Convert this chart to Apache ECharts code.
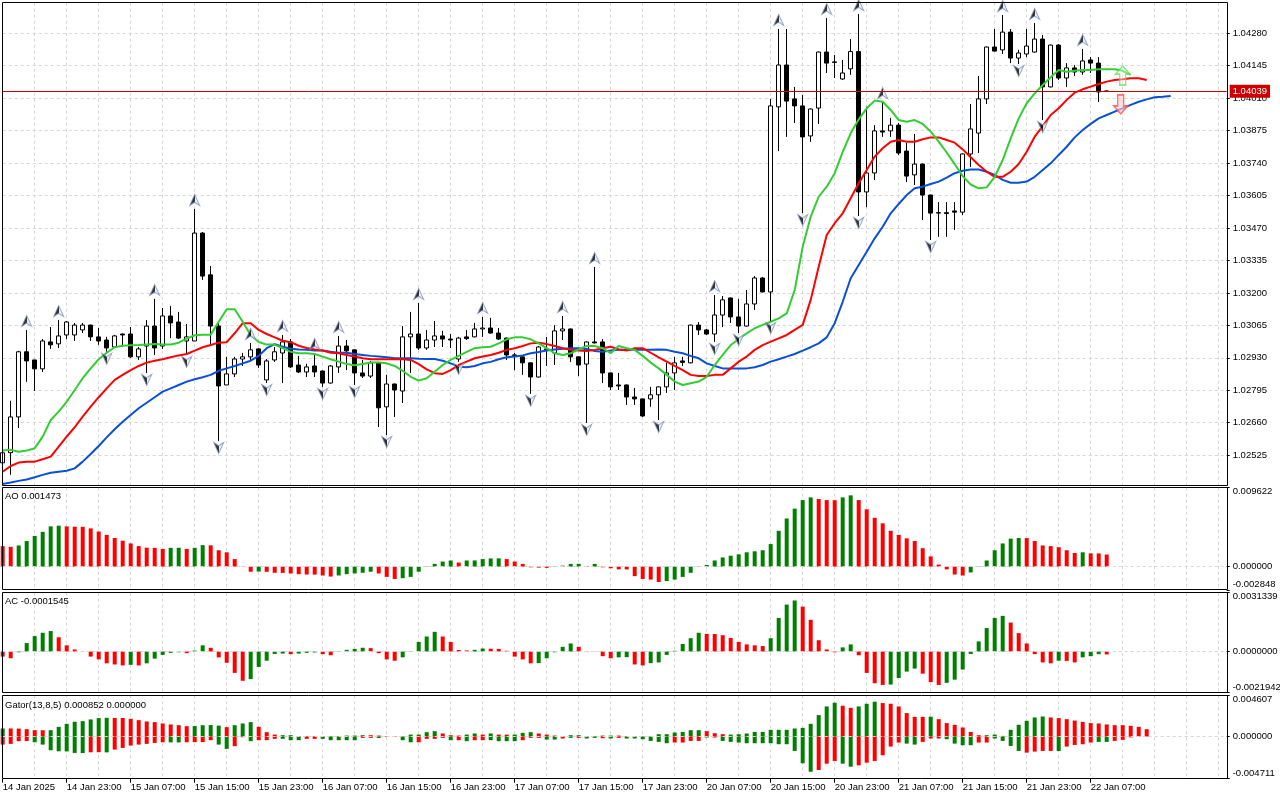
<!DOCTYPE html>
<html>
<head>
<meta charset="utf-8">
<title>EURUSD H1</title>
<script src="https://cdn.jsdelivr.net/npm/echarts@6.0.0/dist/echarts.min.js"></script>
<style>
html, body { margin: 0; padding: 0; background: #fff; }
#chart { width: 1280px; height: 800px; }
</style>
</head>
<body>
<div id="chart"></div>
<script>
var myChart = echarts.init(document.getElementById('chart'));

// time axis: one label every 8 hourly bars
var tickLabels = ['14 Jan 2025', '14 Jan 23:00', '15 Jan 07:00', '15 Jan 15:00', '15 Jan 23:00', '16 Jan 07:00',
    '16 Jan 15:00', '16 Jan 23:00', '17 Jan 07:00', '17 Jan 15:00', '17 Jan 23:00', '20 Jan 07:00',
    '20 Jan 15:00', '20 Jan 23:00', '21 Jan 07:00', '21 Jan 15:00', '21 Jan 23:00', '22 Jan 07:00'];
var slotCount = 154;

// candles
var open = [1.02493,1.02535,1.02684,1.02955,1.02921,1.02884,1.02996,1.02988,1.03025,1.03025,
    1.03046,1.03066,1.03017,1.03004,1.02975,1.03029,1.03029,1.02934,1.02979,1.03062,
    1.02979,1.03104,1.03079,1.03000,1.03000,1.03449,1.03275,1.03062,1.02817,1.02863,
    1.02925,1.02934,1.02967,1.02838,1.02921,1.02950,1.02996,1.02900,1.02871,1.02896,
    1.02875,1.02825,1.02892,1.02979,1.02963,1.02867,1.02854,1.02909,1.02726,1.02821,
    1.02792,1.03017,1.03029,1.02971,1.03004,1.03021,1.03008,1.02925,1.03017,1.03017,
    1.03050,1.03054,1.03033,1.03012,1.02942,1.02934,1.02909,1.02850,1.02963,1.02950,
    1.03042,1.03050,1.02934,1.02904,1.02996,1.02996,1.02867,1.02817,1.02817,1.02767,
    1.02759,1.02759,1.02776,1.02809,1.02867,1.02917,1.02909,1.03066,1.03046,1.03029,
    1.03108,1.03179,1.03100,1.03062,1.03154,1.03262,1.03204,1.03974,1.04148,1.04007,
    1.03978,1.03853,1.03969,1.04202,1.04161,1.04090,1.04132,1.04204,1.03620,1.03699,
    1.03874,1.03874,1.03898,1.03790,1.03691,1.03736,1.03607,1.03532,1.03530,1.03541,
    1.03536,1.03778,1.03865,1.04007,1.04223,1.04211,1.04285,1.04177,1.04194,1.04202,
    1.04256,1.04057,1.04231,1.04094,1.04136,1.04119,1.04169,1.04156,1.04040];
var close = [1.02535,1.02684,1.02955,1.02917,1.02884,1.03000,1.02984,1.03021,1.03079,1.03066,
    1.03066,1.03017,1.03000,1.02971,1.03021,1.03025,1.02934,1.02967,1.03062,1.02971,
    1.03104,1.03075,1.03012,1.03017,1.03449,1.03270,1.03062,1.02813,1.02863,1.02925,
    1.02934,1.02963,1.02900,1.02917,1.02955,1.02996,1.02892,1.02871,1.02892,1.02871,
    1.02825,1.02896,1.02979,1.02959,1.02867,1.02854,1.02909,1.02722,1.02821,1.02796,
    1.03017,1.03029,1.02971,1.03004,1.03021,1.03008,1.03004,1.03012,1.03010,1.03050,
    1.03054,1.03033,1.03008,1.02942,1.02940,1.02909,1.02850,1.02975,1.02967,1.03042,
    1.03050,1.02934,1.02900,1.02996,1.02992,1.02867,1.02809,1.02813,1.02767,1.02759,
    1.02688,1.02776,1.02809,1.02867,1.02909,1.02911,1.03066,1.03046,1.03029,1.03108,
    1.03171,1.03100,1.03062,1.03154,1.03262,1.03204,1.03978,1.04148,1.03998,1.03978,
    1.03849,1.03965,1.04202,1.04156,1.04159,1.04115,1.04204,1.03620,1.03699,1.03874,
    1.03869,1.03898,1.03782,1.03686,1.03736,1.03607,1.03532,1.03534,1.03534,1.03536,
    1.03778,1.03882,1.04007,1.04223,1.04206,1.04285,1.04177,1.04198,1.04227,1.04256,
    1.04057,1.04231,1.04094,1.04136,1.04119,1.04165,1.04156,1.04036,1.04039];
var low = [1.02480,1.02443,1.02638,1.02830,1.02792,1.02871,1.02967,1.02971,1.03008,1.03000,
    1.03033,1.03000,1.02984,1.02955,1.02971,1.02975,1.02930,1.02921,1.02867,1.02942,
    1.02967,1.03012,1.03008,1.02942,1.03000,1.03254,1.02984,1.02584,1.02817,1.02850,
    1.02896,1.02921,1.02888,1.02825,1.02913,1.02825,1.02888,1.02867,1.02850,1.02850,
    1.02809,1.02823,1.02867,1.02879,1.02817,1.02846,1.02846,1.02642,1.02609,1.02684,
    1.02742,1.02867,1.02963,1.02963,1.02975,1.02975,1.02971,1.02913,1.03004,1.03015,
    1.03017,1.03031,1.03004,1.02921,1.02879,1.02859,1.02780,1.02848,1.02896,1.02900,
    1.03004,1.02913,1.02854,1.02659,1.02990,1.02825,1.02796,1.02796,1.02734,1.02734,
    1.02684,1.02726,1.02671,1.02784,1.02796,1.02896,1.02907,1.03025,1.03025,1.02996,
    1.03058,1.03075,1.03033,1.03060,1.03129,1.03202,1.03083,1.03790,1.03849,1.03907,
    1.03532,1.03828,1.03903,1.04115,1.04094,1.04086,1.04107,1.03520,1.03557,1.03670,
    1.03849,1.03849,1.03774,1.03661,1.03649,1.03503,1.03420,1.03433,1.03433,1.03462,
    1.03524,1.03724,1.03782,1.03986,1.04204,1.04194,1.04156,1.04152,1.04181,1.04200,
    1.03919,1.04055,1.04086,1.04057,1.04102,1.04107,1.04115,1.03994,1.04038];
var high = [1.02547,1.02751,1.02959,1.03046,1.02921,1.03008,1.03058,1.03087,1.03083,1.03075,
    1.03075,1.03068,1.03054,1.03017,1.03025,1.03031,1.03058,1.02975,1.03087,1.03175,
    1.03137,1.03146,1.03121,1.03071,1.03549,1.03453,1.03312,1.03079,1.02934,1.02934,
    1.02950,1.02992,1.02970,1.02925,1.02975,1.03025,1.03008,1.02938,1.02905,1.02950,
    1.02877,1.02900,1.03021,1.03004,1.02965,1.02921,1.02917,1.02913,1.02859,1.02823,
    1.03062,1.03121,1.03158,1.03046,1.03083,1.03042,1.03029,1.03017,1.03046,1.03075,
    1.03100,1.03096,1.03054,1.03014,1.02950,1.02936,1.02911,1.02979,1.03017,1.03066,
    1.03104,1.03052,1.02936,1.02998,1.03308,1.03008,1.02869,1.02867,1.02819,1.02805,
    1.02761,1.02809,1.02811,1.02909,1.02934,1.02934,1.03068,1.03079,1.03050,1.03191,
    1.03187,1.03181,1.03175,1.03212,1.03270,1.03266,1.04007,1.04298,1.04298,1.04057,
    1.04023,1.03967,1.04204,1.04344,1.04190,1.04169,1.04256,1.04360,1.03974,1.03898,
    1.03994,1.03928,1.03907,1.03824,1.03861,1.03738,1.03609,1.03578,1.03578,1.03578,
    1.03780,1.03986,1.04102,1.04225,1.04298,1.04356,1.04298,1.04211,1.04298,1.04323,
    1.04273,1.04233,1.04235,1.04156,1.04148,1.04215,1.04181,1.04181,1.04041];
var lastPrice = 1.04039;

// alligator lines (already shifted forward)
var lips = [1.02544,1.02547,1.02539,1.02544,1.02554,1.02602,1.02671,1.02706,1.02747,1.02796,
    1.02845,1.02886,1.02924,1.02951,1.02974,1.02980,1.02982,1.02983,1.02985,1.02987,
    1.02985,1.02985,1.02993,1.03010,1.03024,1.03026,1.03026,1.03080,1.03132,1.03132,
    1.03080,1.03024,1.02996,1.02985,1.02985,1.02970,1.02955,1.02949,1.02949,1.02946,
    1.02935,1.02924,1.02914,1.02904,1.02899,1.02904,1.02910,1.02910,1.02907,1.02896,
    1.02876,1.02851,1.02835,1.02845,1.02872,1.02900,1.02921,1.02938,1.02955,1.02970,
    1.02974,1.02976,1.02990,1.03007,1.03015,1.03015,1.03007,1.02990,1.02970,1.02949,
    1.02942,1.02949,1.02965,1.02979,1.02979,1.02970,1.02949,1.02979,1.02970,1.02963,
    1.02938,1.02910,1.02886,1.02859,1.02831,1.02817,1.02824,1.02831,1.02851,1.02900,
    1.02942,1.02983,1.03007,1.03032,1.03053,1.03067,1.03080,1.03094,1.03115,1.03212,
    1.03392,1.03517,1.03600,1.03642,1.03698,1.03787,1.03864,1.03922,1.03968,1.04000,
    1.03995,1.03961,1.03919,1.03912,1.03919,1.03903,1.03871,1.03829,1.03784,1.03736,
    1.03686,1.03651,1.03635,1.03639,1.03683,1.03753,1.03843,1.03926,1.03989,1.04030,
    1.04065,1.04097,1.04127,1.04120,1.04124,1.04127,1.04127,1.04130,1.04130,1.04130,
    1.04124,1.04107];
var teeth = [1.02456,1.02480,1.02494,1.02498,1.02498,1.02508,1.02519,1.02560,1.02602,1.02641,
    1.02685,1.02727,1.02766,1.02803,1.02838,1.02859,1.02879,1.02896,1.02910,1.02918,
    1.02924,1.02932,1.02940,1.02946,1.02960,1.02974,1.02983,1.02993,1.02995,1.03032,
    1.03074,1.03074,1.03046,1.03029,1.03015,1.03001,1.02995,1.02980,1.02971,1.02965,
    1.02960,1.02951,1.02949,1.02942,1.02935,1.02928,1.02924,1.02924,1.02924,1.02924,
    1.02924,1.02921,1.02904,1.02882,1.02866,1.02863,1.02879,1.02900,1.02914,1.02928,
    1.02935,1.02942,1.02951,1.02963,1.02970,1.02979,1.02990,1.02993,1.02987,1.02979,
    1.02970,1.02963,1.02960,1.02958,1.02963,1.02970,1.02976,1.02965,1.02960,1.02970,
    1.02970,1.02951,1.02932,1.02914,1.02896,1.02879,1.02859,1.02854,1.02854,1.02859,
    1.02859,1.02886,1.02914,1.02935,1.02963,1.02983,1.02997,1.03011,1.03025,1.03046,
    1.03067,1.03171,1.03309,1.03441,1.03490,1.03531,1.03594,1.03656,1.03711,1.03767,
    1.03802,1.03829,1.03836,1.03829,1.03829,1.03839,1.03847,1.03847,1.03836,1.03825,
    1.03797,1.03764,1.03732,1.03704,1.03683,1.03683,1.03704,1.03736,1.03787,1.03850,
    1.03894,1.03940,1.03968,1.04003,1.04033,1.04047,1.04058,1.04069,1.04079,1.04086,
    1.04089,1.04093,1.04093,1.04086];
var jaw = [1.02405,1.02411,1.02418,1.02424,1.02433,1.02443,1.02452,1.02456,1.02460,1.02470,
    1.02498,1.02530,1.02563,1.02599,1.02633,1.02664,1.02692,1.02720,1.02743,1.02766,
    1.02789,1.02803,1.02817,1.02831,1.02841,1.02849,1.02859,1.02876,1.02886,1.02896,
    1.02907,1.02918,1.02938,1.02970,1.02987,1.02976,1.02968,1.02965,1.02963,1.02960,
    1.02960,1.02955,1.02951,1.02951,1.02946,1.02942,1.02938,1.02935,1.02932,1.02928,
    1.02928,1.02928,1.02926,1.02925,1.02925,1.02918,1.02907,1.02893,1.02891,1.02896,
    1.02907,1.02913,1.02924,1.02932,1.02935,1.02940,1.02949,1.02954,1.02960,1.02965,
    1.02968,1.02970,1.02970,1.02967,1.02958,1.02955,1.02960,1.02963,1.02963,1.02965,
    1.02963,1.02963,1.02965,1.02963,1.02955,1.02949,1.02938,1.02928,1.02907,1.02896,
    1.02886,1.02886,1.02886,1.02886,1.02891,1.02900,1.02914,1.02924,1.02935,1.02946,
    1.02960,1.02974,1.02990,1.03015,1.03074,1.03163,1.03261,1.03316,1.03371,1.03427,
    1.03475,1.03531,1.03570,1.03607,1.03635,1.03642,1.03653,1.03663,1.03680,1.03698,
    1.03708,1.03713,1.03713,1.03704,1.03691,1.03670,1.03658,1.03658,1.03663,1.03683,
    1.03711,1.03739,1.03774,1.03808,1.03847,1.03878,1.03903,1.03926,1.03940,1.03954,
    1.03968,1.03982,1.03995,1.04005,1.04014,1.04016,1.04019];

// fractal bars and the two signal arrows
var fractalUp = [3, 7, 19, 24, 31, 35, 39, 42, 52, 60, 70, 74, 89, 97, 103, 107, 110, 125, 129, 135];
var fractalDown = [13, 18, 23, 27, 33, 40, 44, 48, 57, 66, 73, 82, 89, 92, 96, 100, 107, 116, 127, 130];
var signalUp = [[140, 1.04104]];
var signalDown = [[140, 1.03984]];

// Awesome Oscillator
var aoValues = [0.00250,0.00241,0.00258,0.00312,0.00374,0.00424,0.00491,0.00499,0.00491,0.00487,
    0.00485,0.00466,0.00428,0.00387,0.00349,0.00316,0.00283,0.00250,0.00231,0.00229,
    0.00216,0.00229,0.00230,0.00216,0.00229,0.00262,0.00260,0.00200,0.00175,0.00092,
    0.00003,-0.00062,-0.00060,-0.00063,-0.00075,-0.00076,-0.00083,-0.00092,-0.00096,-0.00097,
    -0.00108,-0.00121,-0.00108,-0.00092,-0.00083,-0.00075,-0.00062,-0.00083,-0.00125,-0.00150,
    -0.00141,-0.00125,-0.00062,-0.00004,0.00033,0.00062,0.00075,0.00050,0.00075,0.00076,
    0.00092,0.00100,0.00101,0.00092,0.00062,0.00033,-0.00008,-0.00012,-0.00015,-0.00004,
    0.00012,0.00033,0.00034,0.00008,0.00033,-0.00008,-0.00020,-0.00033,-0.00034,-0.00116,
    -0.00150,-0.00158,-0.00187,-0.00175,-0.00158,-0.00125,-0.00075,-0.00004,0.00021,0.00075,
    0.00112,0.00133,0.00150,0.00175,0.00187,0.00200,0.00275,0.00437,0.00587,0.00707,
    0.00811,0.00844,0.00824,0.00811,0.00810,0.00844,0.00869,0.00811,0.00699,0.00595,
    0.00528,0.00437,0.00387,0.00345,0.00312,0.00225,0.00125,0.00025,-0.00033,-0.00096,
    -0.00108,-0.00071,-0.00004,0.00075,0.00200,0.00283,0.00341,0.00349,0.00348,0.00312,
    0.00258,0.00250,0.00237,0.00200,0.00166,0.00175,0.00162,0.00161,0.001473];
var aoColors = 'rrggggggrr rrrrrrrrrr rggrggrrrr rrgrrrrrrr rrgggggrrr gggggggrgg gggrrrrrrg ' +
    'gggrgrrrrr rrrggggggg gggggggggg ggrrrggrrr rrrrrrrrrr rgggggggrr rrrrrgrrr';
var aoTicks = [0.009622, 0, -0.002848];

// Accelerator Oscillator
var acValues = [-0.00027,-0.00036,-0.00004,0.00045,0.00082,0.00100,0.00109,0.00076,0.00033,0.00011,
    0.00001,-0.00027,-0.00042,-0.00063,-0.00069,-0.00074,-0.00071,-0.00074,-0.00063,-0.00038,
    -0.00018,-0.00007,-0.00004,-0.00009,0.00005,0.00033,0.00020,-0.00031,-0.00060,-0.00114,
    -0.00156,-0.00147,-0.00082,-0.00049,-0.00013,-0.00011,-0.00014,-0.00011,-0.00007,-0.00005,
    -0.00014,-0.00020,0.00002,0.00009,0.00014,0.00020,0.00018,-0.00009,-0.00042,-0.00049,
    -0.00031,0.00002,0.00051,0.00080,0.00105,0.00080,0.00051,0.00008,0.00006,0.00009,
    0.00016,0.00015,0.00014,0.00004,-0.00027,-0.00042,-0.00063,-0.00062,-0.00036,-0.00004,
    0.00025,0.00043,0.00025,-0.00002,-0.00001,-0.00025,-0.00036,-0.00031,-0.00030,-0.00069,
    -0.00074,-0.00062,-0.00058,-0.00018,0.00004,0.00040,0.00071,0.00100,0.00094,0.00093,
    0.00087,0.00072,0.00051,0.00038,0.00033,0.00029,0.00071,0.00179,0.00250,0.00272,
    0.00239,0.00169,0.00060,0.00011,-0.00004,0.00022,0.00038,-0.00020,-0.00114,-0.00169,
    -0.00178,-0.00176,-0.00141,-0.00107,-0.00091,-0.00118,-0.00163,-0.00178,-0.00167,-0.00150,
    -0.00096,-0.00013,0.00054,0.00125,0.00179,0.00190,0.00154,0.00098,0.00043,-0.00014,
    -0.00058,-0.00063,-0.00049,-0.00050,-0.00058,-0.00031,-0.00025,-0.00014,-0.0001545];
var acColors = 'rrgggggrrr rrrrrrgrgg gggrggrrrr rgggggrggg rrggggrrrr gggggrrrrg grrrrrrggg ' +
    'ggrrgrrggr rgggggggrr rrrrrrgggg rrrrrggrrr rggggrrrgg ggggggrrrr rrgrrgggr';
var acTicks = [0.0031339, 0, -0.0021942];

// Gator oscillator: upper and lower histograms
var gatorUp = [0.00090,0.00090,0.00089,0.00082,0.00071,0.00070,0.00071,0.00108,0.00142,0.00165,
    0.00172,0.00191,0.00206,0.00209,0.00208,0.00207,0.00198,0.00183,0.00168,0.00161,
    0.00146,0.00135,0.00127,0.00116,0.00117,0.00127,0.00128,0.00122,0.00105,0.00127,
    0.00146,0.00161,0.00109,0.00049,0.00022,0.00015,0.00015,0.00004,0.00004,0.00004,
    0.00004,0.00004,0.00004,0.00011,0.00011,0.00015,0.00015,0.00011,0.00004,0.00004,
    0.00002,0.00022,0.00022,0.00049,0.00060,0.00034,0.00015,0.00011,0.00022,0.00034,
    0.00022,0.00034,0.00022,0.00022,0.00022,0.00041,0.00049,0.00034,0.00022,0.00011,
    0.00004,0.00015,0.00015,0.00004,0.00004,0.00011,0.00011,0.00011,0.00004,0.00004,
    0.00002,0.00002,0.00026,0.00026,0.00045,0.00052,0.00071,0.00071,0.00060,0.00037,
    0.00026,0.00022,0.00026,0.00034,0.00052,0.00052,0.00075,0.00075,0.00075,0.00090,
    0.00097,0.00142,0.00239,0.00336,0.00378,0.00344,0.00321,0.00336,0.00366,0.00389,
    0.00374,0.00366,0.00336,0.00262,0.00220,0.00220,0.00222,0.00194,0.00150,0.00131,
    0.00101,0.00052,0.00015,0.00015,0.00022,0.00007,0.00075,0.00131,0.00176,0.00213,
    0.00224,0.00213,0.00206,0.00194,0.00179,0.00164,0.00150,0.00146,0.00135,0.00127,
    0.00127,0.00120,0.00108,0.00082];
var gatorUpColors = 'grrrrrgggg ggggrrrrrr rrrrggggrg ggrrrggrrr rgrgggrrrr rggggrrrgg rgrrgggrrr ' +
    'rggrgggrrr ggggggggrr rggggggggg gggggrrggg rrrrrrgrrr rrrggrgggg grrrrrrrrr rrrr';
var gatorDown = [-0.00090,-0.00082,-0.00052,-0.00050,-0.00064,-0.00090,-0.00153,-0.00165,-0.00166,-0.00183,
    -0.00184,-0.00176,-0.00175,-0.00177,-0.00146,-0.00127,-0.00101,-0.00090,-0.00082,-0.00071,
    -0.00064,-0.00065,-0.00066,-0.00064,-0.00063,-0.00062,-0.00041,-0.00090,-0.00138,-0.00108,
    -0.00008,-0.00052,-0.00041,-0.00041,-0.00026,-0.00026,-0.00041,-0.00041,-0.00026,-0.00026,
    -0.00026,-0.00041,-0.00041,-0.00041,-0.00041,-0.00015,-0.00015,-0.00016,-0.00004,-0.00004,
    -0.00041,-0.00064,-0.00064,-0.00026,-0.00026,-0.00015,-0.00041,-0.00041,-0.00052,-0.00041,
    -0.00041,-0.00041,-0.00052,-0.00052,-0.00052,-0.00041,-0.00015,-0.00015,-0.00034,-0.00034,
    -0.00022,-0.00015,-0.00015,-0.00022,-0.00015,-0.00019,-0.00022,-0.00015,-0.00022,-0.00022,
    -0.00030,-0.00049,-0.00060,-0.00075,-0.00067,-0.00067,-0.00049,-0.00049,-0.00011,-0.00011,
    -0.00049,-0.00060,-0.00067,-0.00075,-0.00075,-0.00075,-0.00075,-0.00086,-0.00086,-0.00161,
    -0.00299,-0.00393,-0.00374,-0.00303,-0.00273,-0.00303,-0.00337,-0.00322,-0.00292,-0.00273,
    -0.00209,-0.00112,-0.00067,-0.00079,-0.00090,-0.00060,-0.00022,-0.00022,-0.00030,-0.00079,
    -0.00097,-0.00097,-0.00067,-0.00067,-0.00022,-0.00049,-0.00105,-0.00161,-0.00180,-0.00168,
    -0.00161,-0.00161,-0.00162,-0.00112,-0.00094,-0.00086,-0.00067,-0.00060,-0.00060,-0.00049,
    -0.00037,-0.00010];
var gatorDownColors = 'rrrrgggggg grrgrrrrrr rggrrrrggr rgrrrgggrr gggggrrgrr ggrrrrgrgr rggggrrrgg ' +
    'rgrggrgrgg ggggrrrrgr gggggggggg ggrrrggrrr rrrggrrrgg ggrrggggrr rrgrrrrggr rr';
var gatorTicks = [0.004607, 0, -0.004711];

var FONT = 'Liberation Sans';
var FS = 9.5;
var GRIDC = '#d6d6d6';
var UPC = '#008000', DNC = '#ff0000';

var slots = [];
for (var k = 0; k < slotCount; k++) slots.push(String(k));

var candles = [];
for (var i = 0; i < open.length; i++) candles.push([open[i], close[i], low[i], high[i]]);

function colored(vals, cols) {
    cols = cols.replace(/ /g, '');
    return vals.map(function (v, j) {
        return { value: v, itemStyle: { color: cols.charAt(j) === 'g' ? UPC : DNC } };
    });
}

// a time tick only where there is a time label
function hasLabel(idx) {
    return idx % 8 === 0 && idx / 8 < tickLabels.length;
}

function xAx(gi, withLabels) {
    return {
        type: 'category', gridIndex: gi, data: slots, boundaryGap: false,
        axisLine: { show: false, onZero: false },
        axisTick: { show: withLabels, interval: hasLabel, length: 4, lineStyle: { color: '#000' } },
        axisLabel: {
            show: withLabels, interval: hasLabel, align: 'left', margin: 4,
            color: '#000', fontFamily: FONT, fontSize: FS,
            formatter: function (v, idx) { return tickLabels[idx / 8] || ''; }
        },
        splitLine: { show: true, interval: 3, lineStyle: { color: GRIDC, type: [3, 3] } }
    };
}

function paneY(gi, ticks, digits) {
    var lab = { fontFamily: FONT, fontSize: FS, color: '#000' };
    return {
        type: 'value', gridIndex: gi, position: 'right', min: ticks[2], max: ticks[0],
        axisLine: { show: false },
        splitLine: { show: false },
        axisTick: { show: true, length: 3, customValues: ticks, lineStyle: { color: '#000' } },
        axisLabel: {
            customValues: ticks, margin: 6, color: '#000', fontFamily: FONT, fontSize: FS,
            formatter: function (v) {
                var s = v.toFixed(digits);
                if (v > 0) return '{t|' + s + '}';
                if (v < 0) return '{b|' + s + '}';
                return s;
            },
            rich: {
                t: Object.assign({ padding: [8, 0, 0, 0] }, lab),
                b: Object.assign({ padding: [0, 0, 11, 0] }, lab)
            }
        }
    };
}

function zeroLine() {
    return {
        silent: true, symbol: ['none', 'none'], label: { show: false },
        lineStyle: { color: GRIDC, type: [3, 3], width: 1 },
        data: [{ yAxis: 0 }]
    };
}

var fractalFill = {
    type: 'linear', x: 0, y: 0, x2: 1, y2: 0,
    colorStops: [{ offset: 0, color: '#000' }, { offset: 0.5, color: '#000' },
                 { offset: 0.5, color: '#e8ecf4' }, { offset: 1, color: '#e8ecf4' }]
};

var titleStyle = { fontFamily: FONT, fontSize: FS, fontWeight: 'normal', color: '#000' };

var option = {
    animation: false,
    backgroundColor: '#fff',
    textStyle: { fontFamily: FONT },
    title: [
        { text: 'AO 0.001473', left: 5, top: 491, padding: 0, textStyle: titleStyle },
        { text: 'AC -0.0001545', left: 5, top: 596, padding: 0, textStyle: titleStyle },
        { text: 'Gator(13,8,5) 0.000852 0.000000', left: 5, top: 700, padding: 0, textStyle: titleStyle }
    ],
    grid: [
        { left: 2.7, right: 53.3, top: 2.7, height: 484.9, outerBoundsMode: 'none' },
        { left: 2.7, right: 53.3, top: 487.7, height: 102.3, outerBoundsMode: 'none' },
        { left: 2.7, right: 53.3, top: 592.7, height: 100, outerBoundsMode: 'none' },
        { left: 2.7, right: 53.3, top: 695.3, height: 83.4, outerBoundsMode: 'none' }
    ],
    xAxis: [xAx(0, false), xAx(1, false), xAx(2, false), xAx(3, true)],
    yAxis: [
        {
            type: 'value', gridIndex: 0, position: 'right', min: 1.02390, max: 1.044073, interval: 0.00135,
            axisLine: { show: false },
            axisTick: { show: true, length: 3, lineStyle: { color: '#000' } },
            axisLabel: {
                showMinLabel: false, showMaxLabel: false, margin: 6,
                color: '#000', fontFamily: FONT, fontSize: FS,
                formatter: function (v) { return v.toFixed(5); }
            },
            splitLine: { show: true, lineStyle: { color: GRIDC, type: [3, 3] } }
        },
        paneY(1, aoTicks, 6),
        paneY(2, acTicks, 7),
        paneY(3, gatorTicks, 6)
    ],
    graphic: [
        { type: 'rect', z: 100, silent: true, shape: { x: 2.5, y: 2.5, width: 1225, height: 483 }, style: { fill: 'none', stroke: '#000', lineWidth: 1 } },
        { type: 'rect', z: 100, silent: true, shape: { x: 2.5, y: 487.5, width: 1225, height: 102 }, style: { fill: 'none', stroke: '#000', lineWidth: 1 } },
        { type: 'rect', z: 100, silent: true, shape: { x: 2.5, y: 592.5, width: 1225, height: 100 }, style: { fill: 'none', stroke: '#000', lineWidth: 1 } },
        { type: 'rect', z: 100, silent: true, shape: { x: 2.5, y: 695.5, width: 1225, height: 83 }, style: { fill: 'none', stroke: '#000', lineWidth: 1 } }
    ],
    series: [
        {
            name: 'EURUSD', type: 'candlestick', xAxisIndex: 0, yAxisIndex: 0, z: 2,
            barWidth: 4,
            data: candles,
            itemStyle: { color: '#ffffff', color0: '#000000', borderColor: '#000000', borderColor0: '#000000', borderColorDoji: '#000000', borderWidth: 1 },
            markLine: {
                silent: true, symbol: ['none', 'none'], precision: 5,
                lineStyle: { color: '#c80000', width: 1, type: 'solid' },
                label: {
                    position: 'end', distance: 3,
                    formatter: function () { return lastPrice.toFixed(5); },
                    backgroundColor: '#cc0000', color: '#fff', padding: [2, 3, 1, 3],
                    fontFamily: FONT, fontSize: FS
                },
                data: [{ yAxis: lastPrice }]
            }
        },
        { name: 'Jaw', type: 'line', xAxisIndex: 0, yAxisIndex: 0, z: 3, data: jaw, showSymbol: false, lineStyle: { color: '#0a4fd8', width: 2 } },
        { name: 'Teeth', type: 'line', xAxisIndex: 0, yAxisIndex: 0, z: 3, data: teeth, showSymbol: false, lineStyle: { color: '#ff0000', width: 2 } },
        { name: 'Lips', type: 'line', xAxisIndex: 0, yAxisIndex: 0, z: 3, data: lips, showSymbol: false, lineStyle: { color: '#32cd32', width: 2 } },
        {
            name: 'Fractal up', type: 'scatter', xAxisIndex: 0, yAxisIndex: 0, z: 4, clip: false,
            symbol: 'path://M5,0 L10,10 L5,7 L0,10 Z', symbolSize: [10, 11], symbolOffset: [0, -9],
            itemStyle: { color: fractalFill, borderColor: '#7f93b8', borderWidth: 1 },
            data: fractalUp.map(function (b) { return [b, high[b]]; })
        },
        {
            name: 'Fractal down', type: 'scatter', xAxisIndex: 0, yAxisIndex: 0, z: 4, clip: false,
            symbol: 'path://M0,0 L5,3 L10,0 L5,10 Z', symbolSize: [10, 11], symbolOffset: [0, 7],
            itemStyle: { color: fractalFill, borderColor: '#7f93b8', borderWidth: 1 },
            data: fractalDown.map(function (b) { return [b, low[b]]; })
        },
        {
            name: 'Buy signal', type: 'scatter', xAxisIndex: 0, yAxisIndex: 0, z: 5,
            symbol: 'path://M7,0 L14,8 L10,8 L10,19 L4,19 L4,8 L0,8 Z', symbolSize: [14, 19],
            itemStyle: { color: 'rgba(255,255,255,0.5)', borderColor: '#5ee35e', borderWidth: 1.5 },
            data: signalUp
        },
        {
            name: 'Sell signal', type: 'scatter', xAxisIndex: 0, yAxisIndex: 0, z: 5,
            symbol: 'path://M4,0 L10,0 L10,11 L14,11 L7,19 L0,11 L4,11 Z', symbolSize: [14, 19], symbolOffset: [-2, 0],
            itemStyle: { color: 'rgba(255,210,210,0.8)', borderColor: '#ff4d4d', borderWidth: 1.5 },
            data: signalDown
        },
        {
            name: 'AO', type: 'bar', xAxisIndex: 1, yAxisIndex: 1, barWidth: 4,
            data: colored(aoValues, aoColors), markLine: zeroLine()
        },
        {
            name: 'AC', type: 'bar', xAxisIndex: 2, yAxisIndex: 2, barWidth: 4,
            data: colored(acValues, acColors), markLine: zeroLine()
        },
        {
            name: 'Gator up', type: 'bar', xAxisIndex: 3, yAxisIndex: 3, barWidth: 4, barGap: '-100%',
            data: colored(gatorUp, gatorUpColors), markLine: zeroLine()
        },
        {
            name: 'Gator down', type: 'bar', xAxisIndex: 3, yAxisIndex: 3, barWidth: 4, barGap: '-100%',
            data: colored(gatorDown, gatorDownColors)
        }
    ]
};

myChart.setOption(option);
</script>
</body>
</html>
